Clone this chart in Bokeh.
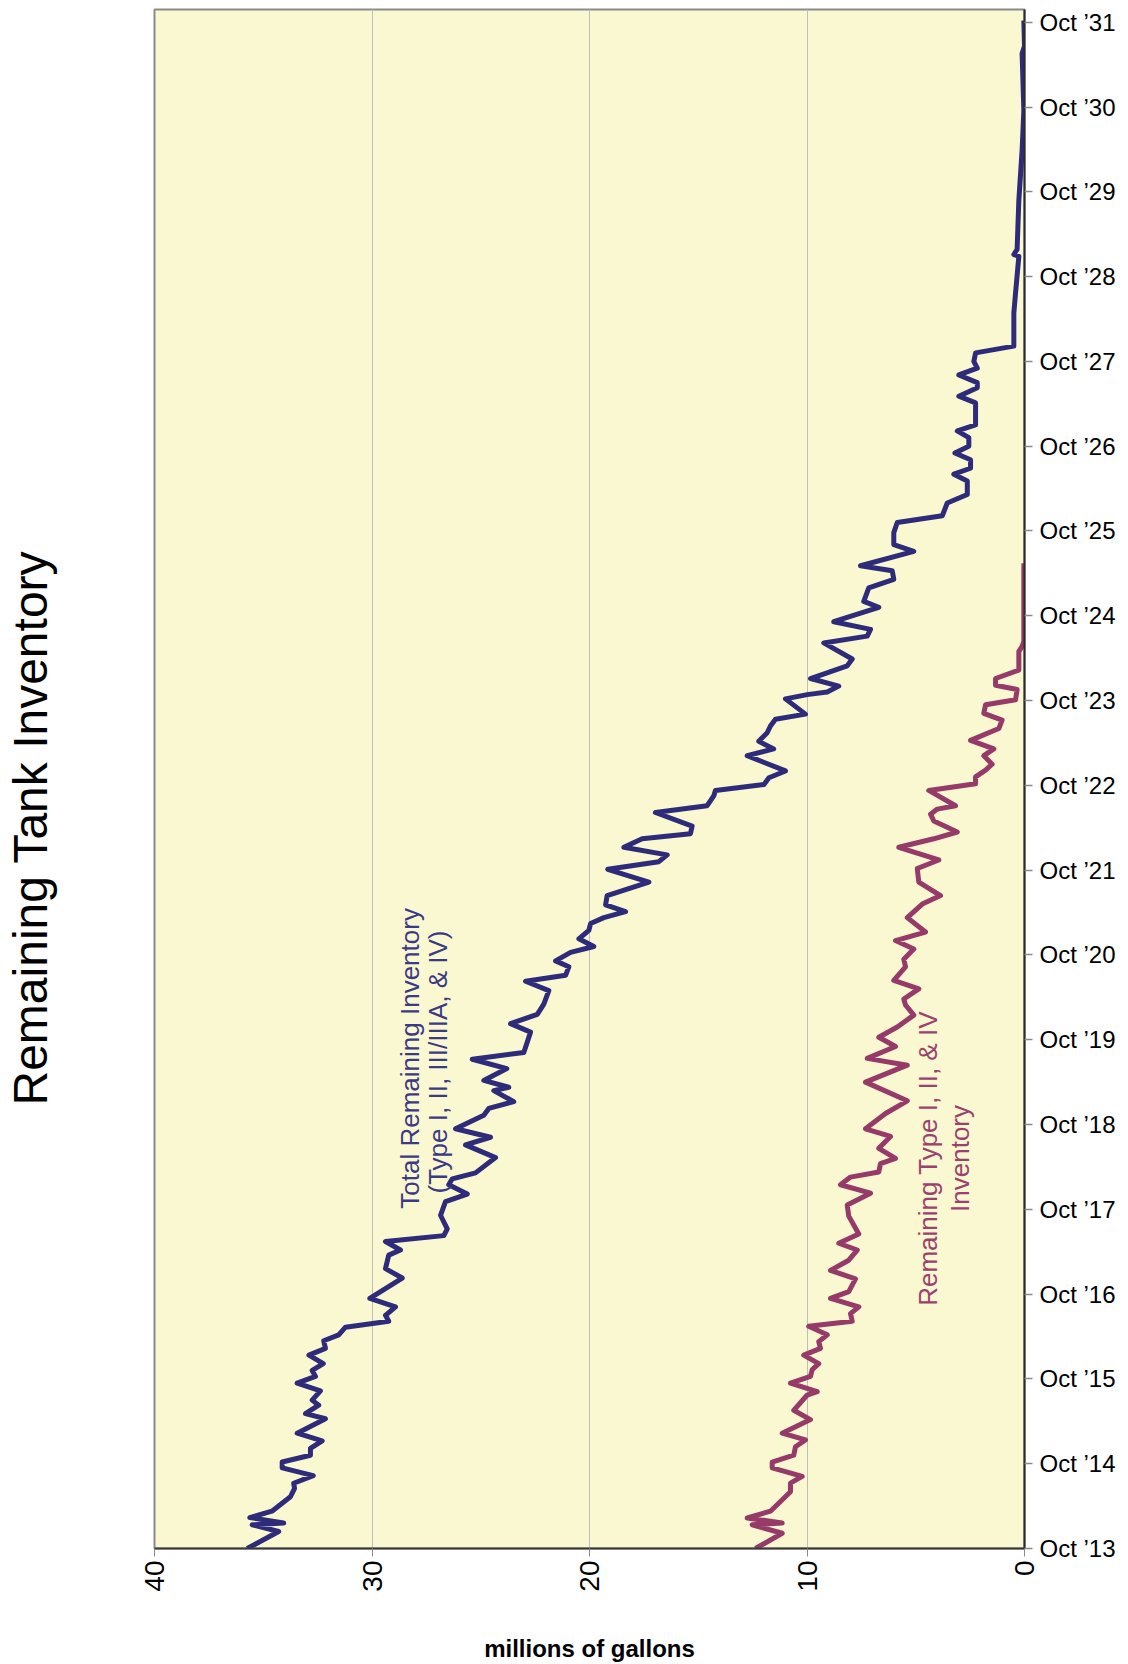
import math
from bokeh.plotting import figure
from bokeh.models import Range1d, FixedTicker, Title
from bokeh.core.properties import value
from bokeh.embed import file_html
from bokeh.resources import INLINE

# ---- data: years after Oct 2013, millions of gallons ----
total_t = [0.00, 0.20, 0.28, 0.30, 0.365, 0.44, 0.61, 0.71, 0.77, 0.86, 0.95, 1.02, 1.10, 1.18,
           1.27, 1.36, 1.53, 1.59, 1.69, 1.75, 1.86, 1.95, 2.03, 2.10, 2.18, 2.28, 2.36, 2.45,
           2.52, 2.61, 2.68, 2.75, 2.85, 2.95, 3.19, 3.30, 3.46, 3.52, 3.62, 3.69, 3.77, 3.93,
           4.09, 4.18, 4.29, 4.36, 4.43, 4.61, 4.76, 4.85, 4.95, 5.11, 5.19, 5.27, 5.40, 5.44,
           5.52, 5.66, 5.77, 5.85, 6.09, 6.19, 6.30, 6.42, 6.58, 6.69, 6.76, 6.86, 6.93, 7.03,
           7.10, 7.19, 7.29, 7.37, 7.44, 7.51, 7.59, 7.70, 7.86, 8.01, 8.10, 8.18, 8.27, 8.37,
           8.43, 8.52, 8.68, 8.76, 8.88, 8.94, 9.01, 9.09, 9.17, 9.35, 9.43, 9.52, 9.62, 9.70,
           9.78, 9.84, 10.02, 10.07, 10.10, 10.17, 10.26, 10.41, 10.49, 10.68, 10.76, 10.84,
           10.93, 11.10, 11.17, 11.33, 11.43, 11.53, 11.59, 11.76, 11.84, 11.98, 12.10, 12.18,
           12.33, 12.43, 12.59, 12.67, 12.74, 12.84, 12.92, 13.00, 13.10, 13.18, 13.25, 13.51,
           13.59, 13.69, 13.75, 13.84, 13.92, 14.00, 14.10, 14.18, 14.57, 14.81, 15.24, 15.26,
           15.32, 15.90, 16.49, 16.96, 17.63, 17.72, 18.02]
total_v = [35.74, 34.29, 35.51, 34.06, 35.62, 34.60, 33.75, 33.56, 33.60, 32.70, 34.13, 34.13, 32.83, 32.83,
           32.29, 33.44, 32.14, 33.06, 32.45, 32.75, 32.37, 33.44, 32.60, 32.75, 32.24, 32.90, 32.14, 32.22,
           31.53, 31.22, 29.23, 29.38, 28.92, 30.10, 28.61, 29.38, 29.23, 28.69, 29.38, 26.70, 26.54, 26.85,
           26.62, 25.62, 26.47, 26.31, 25.24, 24.32, 25.70, 24.55, 26.16, 24.86, 24.63, 23.48, 24.40, 23.71,
           24.86, 23.80, 25.39, 23.02, 22.71, 23.63, 22.40, 22.10, 21.87, 22.94, 21.10, 20.95, 21.56, 20.87,
           19.80, 20.49, 20.03, 19.95, 19.34, 18.34, 19.26, 19.19, 17.27, 19.16, 16.81, 16.43, 18.42, 17.58,
           15.36, 15.28, 16.97, 14.59, 14.28, 14.21, 11.98, 11.75, 10.99, 12.75, 11.53, 12.22, 11.83, 11.68,
           11.45, 10.07, 10.99, 9.99, 9.07, 8.54, 9.84, 8.15, 7.92, 9.23, 7.23, 7.08,
           8.77, 6.70, 7.39, 7.16, 6.01, 6.08, 7.54, 5.09, 6.01, 6.01, 5.85, 3.78,
           3.55, 2.63, 2.63, 3.25, 2.48, 2.48, 3.20, 2.56, 2.56, 3.09, 2.25, 2.25,
           3.02, 2.17, 2.17, 3.02, 2.17, 2.33, 2.25, 0.49, 0.49, 0.41, 0.26, 0.49,
           0.34, 0.26, 0.11, 0.03, 0.11, 0.00, 0.03]

type124_t = [0.00, 0.18, 0.28, 0.30, 0.36, 0.44, 0.67, 0.77, 0.85, 0.95, 1.02, 1.10, 1.20, 1.28,
             1.36, 1.52, 1.63, 1.81, 1.85, 1.95, 2.03, 2.11, 2.18, 2.28, 2.36, 2.44, 2.52, 2.62,
             2.68, 2.77, 2.85, 2.95, 3.03, 3.18, 3.28, 3.40, 3.52, 3.60, 3.71, 3.92, 4.05, 4.19,
             4.29, 4.38, 4.44, 4.54, 4.60, 4.72, 4.86, 4.95, 5.13, 5.28, 5.50, 5.70, 5.78, 5.92,
             6.03, 6.15, 6.29, 6.41, 6.48, 6.60, 6.70, 6.86, 6.95, 7.07, 7.17, 7.27, 7.44, 7.60,
             7.70, 7.86, 8.02, 8.12, 8.27, 8.37, 8.45, 8.58, 8.66, 8.72, 8.76, 8.94, 9.02, 9.10,
             9.18, 9.25, 9.35, 9.43, 9.53, 9.67, 9.77, 9.85, 9.95, 10.01, 10.13, 10.18, 10.26,
             10.36, 10.58, 10.64, 10.70, 11.62]
type124_v = [12.37, 11.14, 12.52, 11.14, 12.75, 11.68, 10.76, 10.76, 10.22, 11.60, 11.60, 10.61, 10.53, 10.07,
             11.14, 9.84, 10.61, 9.99, 9.53, 10.76, 9.84, 9.76, 9.46, 10.15, 9.38, 9.46, 9.07, 9.92,
             7.92, 8.00, 7.62, 8.92, 8.08, 7.77, 8.92, 8.08, 7.69, 8.54, 7.62, 8.08, 8.15, 7.08,
             8.46, 8.00, 6.70, 6.62, 5.93, 6.70, 6.16, 7.31, 6.39, 5.39, 7.31, 5.39, 7.23, 5.93,
             6.70, 5.85, 5.09, 5.47, 5.55, 4.86, 6.01, 5.47, 5.55, 5.09, 5.93, 4.55, 5.39, 4.70,
             3.86, 4.86, 4.93, 3.94, 5.78, 4.17, 3.09, 4.17, 4.32, 4.01, 3.17, 4.40, 2.25, 2.25,
             1.79, 1.49, 1.87, 1.41, 2.48, 1.18, 1.03, 1.87, 1.79, 0.41, 0.34, 1.33, 1.33,
             0.26, 0.26, 0.11, 0.03, 0.03]

year_ticks = list(range(0, 19))
year_labels = ["Oct \u2019%02d" % (13 + i) for i in year_ticks]
gallon_ticks = [0, 10, 20, 30, 40]

title_text = "Remaining Tank Inventory"
xlabel_text = "millions of gallons"
total_label = ["Total Remaining Inventory", "(Type I, II, III/IIIA,  & IV)"]
type124_label = ["Remaining Type I, II, & IV", "Inventory"]

BLUE = "#2e2c7a"
RED = "#953a69"
BG = "#faf8d0"
FONT = "Liberation Sans"

p = figure(frame_width=870, frame_height=1539,
           x_range=Range1d(40, 0), y_range=Range1d(0, 18.15),
           y_axis_location="right", output_backend="svg", toolbar_location=None,
           min_border_left=154, min_border_right=96, min_border_top=9, min_border_bottom=116)
p.background_fill_color = BG
p.border_fill_color = "white"
p.outline_line_color = "#8a8a8a"
p.outline_line_width = 2

# grid
p.xgrid.ticker = FixedTicker(ticks=gallon_ticks)
p.xgrid.grid_line_color = "#bdbdbd"
p.xgrid.grid_line_width = 1
p.ygrid.grid_line_color = None

# x axis (bottom)
xa = p.xaxis[0]
xa.ticker = FixedTicker(ticks=gallon_ticks)
xa.major_label_orientation = math.pi / 2
xa.major_label_text_font = FONT
xa.major_label_text_font_size = "28px"
xa.major_label_text_color = "black"
xa.major_label_standoff = 4
xa.axis_line_color = "#3a3a3a"
xa.axis_line_width = 2
xa.major_tick_line_color = "#8a8a8a"
xa.major_tick_out = 8
xa.major_tick_in = 0
xa.minor_tick_line_color = None
xa.axis_label = xlabel_text
xa.axis_label_text_font = FONT
xa.axis_label_text_font_style = "bold"
xa.axis_label_text_font_size = "24px"
xa.axis_label_text_color = "black"
xa.axis_label_standoff = 40

# y axis (right)
ya = p.yaxis[0]
ya.ticker = FixedTicker(ticks=year_ticks)
ya.major_label_overrides = {t: lab for t, lab in zip(year_ticks, year_labels)}
ya.major_label_text_font = FONT
ya.major_label_text_font_size = "24px"
ya.major_label_text_color = "black"
ya.major_label_standoff = 7
ya.axis_line_color = "#2a2a2a"
ya.axis_line_width = 2
ya.major_tick_line_color = "#8a8a8a"
ya.major_tick_line_width = 1.5
ya.major_tick_out = 8
ya.major_tick_in = 0
ya.minor_tick_line_color = None

# lines
p.line(total_v, total_t, line_color=BLUE, line_width=5, line_join="round")
p.line(type124_v, type124_t, line_color=RED, line_width=5, line_join="round")

# in-plot labels
p.text(x=[28.25, 26.95], y=[5.78, 5.78], text=total_label, angle=math.pi / 2,
       text_align="center", text_baseline="middle", text_color="#3b3a86",
       text_font=value(FONT), text_font_size="26px")
p.text(x=[4.45, 2.95], y=[4.60, 4.60], text=type124_label, angle=math.pi / 2,
       text_align="center", text_baseline="middle", text_color="#9a416f",
       text_font=value(FONT), text_font_size="26px")

# spacer next to the frame, then the vertical title further out on the left
p.add_layout(Title(text=" ", standoff=91, text_font_size="1px"), "left")
p.add_layout(Title(text=title_text, align="left", offset=443, standoff=4,
                   vertical_align="top",
                   text_font=FONT, text_font_size="48px", text_font_style="normal",
                   text_color="black"), "left")

open("out.html", "w").write(file_html(p, INLINE))
